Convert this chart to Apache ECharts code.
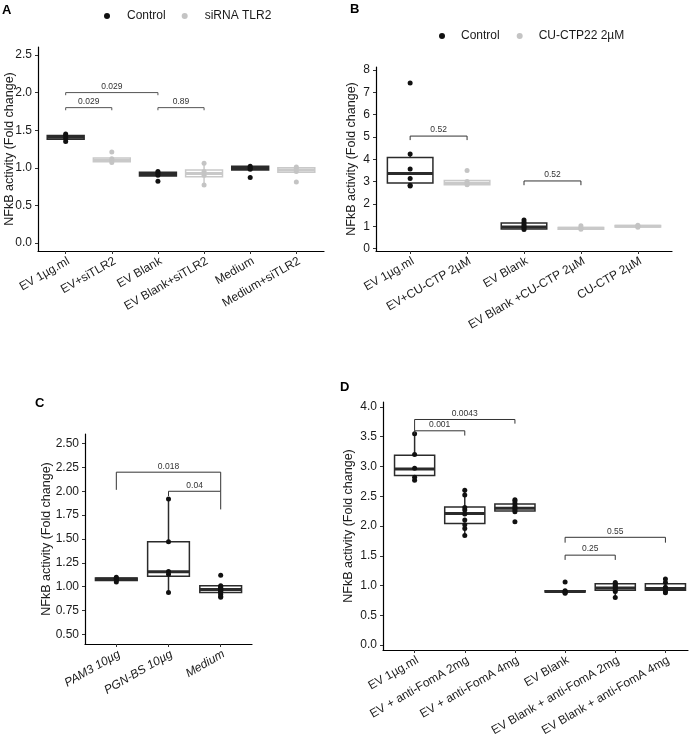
<!DOCTYPE html>
<html><head><meta charset="utf-8">
<script src="https://cdn.jsdelivr.net/npm/echarts@6/dist/echarts.min.js"></script>
<style>html,body{margin:0;padding:0;background:#fff}#c{width:696px;height:754px}</style>
</head><body><div id="c"></div>
<script>
// ---------------- Panel A ----------------
const catsA = ['EV 1µg.ml','EV+siTLR2','EV Blank','EV Blank+siTLR2','Medium','Medium+siTLR2'];
const groupA = [0,1,0,1,0,1];               // 0 = Control, 1 = siRNA TLR2
// [lower whisker, q1, median, q3, upper whisker]
const boxA = [[1.35,1.38,1.405,1.43,1.45],[1.07,1.08,1.10,1.13,1.13],[0.89,0.89,0.91,0.94,0.95],
              [0.77,0.88,0.925,0.97,1.06],[0.97,0.97,0.99,1.02,1.02],[0.94,0.94,0.97,1.00,1.01]];
const ptsA = [[1.45,1.43,1.39,1.35],[1.21,1.12,1.10,1.07],[0.95,0.93,0.90,0.82],
              [1.06,0.95,0.90,0.77],[1.02,1.00,0.98,0.87],[1.01,0.99,0.95,0.81]];
const tickA = [0,0.5,1,1.5,2,2.5];
// [x1, x2, bar y, left tip end, right tip end]
const brA = [[1,3,2.00,1.965,1.965],[1,2,1.80,1.765,1.765],[3,4,1.80,1.765,1.765]];
const brLabA = ['0.029','0.029','0.89'];

// ---------------- Panel B ----------------
const catsB = ['EV 1µg.ml','EV+CU-CTP 2µM','EV Blank','EV Blank +CU-CTP 2µM','CU-CTP 2µM'];
const groupB = [0,1,0,1,1];                 // 0 = Control, 1 = CU-CTP22 2µM
const boxB = [[2.80,2.94,3.36,4.08,4.24],[2.84,2.86,2.93,3.05,3.05],[0.85,0.88,0.97,1.15,1.28],
              [0.86,0.87,0.91,0.94,1.02],[0.96,0.97,1.00,1.03,1.05]];
const ptsB = [[7.42,4.24,3.57,3.14,2.84,2.80],[3.50,3.00,2.90,2.86],[1.28,1.18,1.08,1.00,0.93,0.85],
              [1.02,0.93,0.90,0.87],[1.05,1.01,0.99,0.96]];
const tickB = [0,1,2,3,4,5,6,7,8];
const brB = [[1,2,5.04,4.86,4.86],[3,4,3.03,2.84,2.84]];
const brLabB = ['0.52','0.52'];

// ---------------- Panel C ----------------
const catsC = ['PAM3 10µg','PGN-BS 10µg','Medium'];
const boxC = [[1.05,1.066,1.08,1.091,1.10],[0.94,1.11,1.157,1.47,1.92],[0.89,0.94,0.97,1.01,1.02]];
const ptsC = [[1.10,1.09,1.08,1.07,1.05],[1.92,1.47,1.16,1.13,0.94],
              [1.12,1.01,1.00,0.99,0.98,0.97,0.96,0.95,0.94,0.92,0.90,0.89]];
const tickC = [0.5,0.75,1,1.25,1.5,1.75,2,2.25,2.5];
const brC = [[1,3,2.20,2.015,2.00],[2,3,2.00,1.95,1.81]];
const brLabC = ['0.018','0.04'];

// ---------------- Panel D ----------------
const catsD = ['EV 1µg.ml','EV + anti-FomA 2mg','EV + anti-FomA 4mg','EV Blank','EV Blank + anti-FomA 2mg','EV Blank + anti-FomA 4mg'];
const boxD = [[2.77,2.85,2.96,3.19,3.55],[1.84,2.04,2.21,2.32,2.60],[2.24,2.25,2.30,2.37,2.44],
              [0.87,0.89,0.90,0.91,0.91],[0.80,0.92,0.96,1.03,1.05],[0.88,0.92,0.95,1.03,1.11]];
const ptsD = [[3.55,3.20,2.97,2.82,2.77],[2.60,2.52,2.31,2.27,2.20,2.10,2.02,1.96,1.84],
              [2.44,2.42,2.38,2.33,2.30,2.27,2.24,2.07],[1.06,0.91,0.90,0.88,0.87],
              [1.05,1.03,1.00,0.98,0.96,0.93,0.90,0.80],[1.11,1.05,0.97,0.95,0.90,0.88]];
const tickD = [0,0.5,1,1.5,2,2.5,3,3.5,4];
const brD = [[1,3,3.79,3.60,3.72],[1,2,3.60,3.55,3.52],[4,6,1.81,1.72,1.72],[4,5,1.51,1.43,1.43]];
const brLabD = ['0.0043','0.001','0.55','0.25'];

const DARK = '#2b2b2b', DARKPT = '#111111', LIGHT = '#c9c9c9', LIGHTPT = '#c4c4c4';
const FONT = '"Liberation Sans", Arial, Helvetica, sans-serif';
const YTITLE = 'NFkB activity (Fold change)';

function boxRender(color, halfW){
  return function(params, api){
    const x = api.value(0), lo = api.value(1), q1 = api.value(2), md = api.value(3), q3 = api.value(4), hi = api.value(5);
    const pL = api.coord([x - halfW, q1]), pR = api.coord([x + halfW, q3]);
    const pLo = api.coord([x, lo]), pHi = api.coord([x, hi]), pMd = api.coord([x, md]);
    const st = {stroke: color, lineWidth: 1.5};
    return {type:'group', children:[
      {type:'line', shape:{x1:pLo[0], y1:pHi[1], x2:pLo[0], y2:pR[1]}, style:st},
      {type:'line', shape:{x1:pLo[0], y1:pL[1], x2:pLo[0], y2:pLo[1]}, style:st},
      {type:'rect', shape:{x:pL[0], y:pR[1], width:pR[0]-pL[0], height:pL[1]-pR[1]}, style:{fill:'#fff', stroke:color, lineWidth:1.5}},
      {type:'line', shape:{x1:pL[0], y1:pMd[1], x2:pR[0], y2:pMd[1]}, style:{stroke:color, lineWidth:3}}
    ]};
  };
}
function bracketRender(labels, color){
  return function(params, api){
    const x1 = api.value(0), x2 = api.value(1), y = api.value(2), yl = api.value(3), yr = api.value(4);
    const a = api.coord([x1, yl]), b = api.coord([x1, y]), c = api.coord([x2, y]), d = api.coord([x2, yr]);
    return {type:'group', children:[
      {type:'polyline', shape:{points:[a,b,c,d]}, style:{stroke:color, lineWidth:1, fill:null}},
      {type:'text', x:(b[0]+c[0])/2, y:b[1]-1.5, style:{text:labels[params.dataIndex], fontSize:8.5, fontFamily:FONT, fill:'#333', align:'center', verticalAlign:'bottom'}}
    ]};
  };
}

const grids = [], xAxes = [], yAxes = [], series = [];
function panel(gi, grid, cats, xmin, xmax, ticks, ymin, ymax, digits, nameGap, italic){
  grids.push(grid);
  xAxes.push({type:'value', gridIndex:gi, min:xmin, max:xmax,
    axisLine:{show:true, onZero:false, lineStyle:{color:'#000', width:1.2}},
    axisTick:{show:true, length:3, customValues:cats.map((c,i)=>i+1), lineStyle:{color:'#333'}},
    axisLabel:{show:true, customValues:cats.map((c,i)=>i+1), rotate:30, margin:4, align:'right', verticalAlign:'top',
      fontSize:12, fontFamily:FONT, color:'#1a1a1a',
      fontStyle: italic ? 'italic' : 'normal', formatter:v => cats[Math.round(v)-1] || ''},
    splitLine:{show:false}});
  yAxes.push({type:'value', gridIndex:gi, min:ymin, max:ymax,
    axisLine:{show:true, onZero:false, lineStyle:{color:'#000', width:1.2}},
    axisTick:{show:true, length:3, customValues:ticks, lineStyle:{color:'#333'}},
    axisLabel:{show:true, customValues:ticks, margin:6, fontSize:12, fontFamily:FONT, color:'#1a1a1a', formatter:v => v.toFixed(digits)},
    splitLine:{show:false},
    name:YTITLE, nameLocation:'middle', nameGap:nameGap, nameRotate:90, nameMoveOverlap:false,
    nameTextStyle:{fontSize:12.5, fontFamily:FONT, color:'#1a1a1a'}});
}
function addData(gi, cats, boxes, pts, groups, names, boxColors, ptColors, halfW, brs, brLabs, brColor){
  const ng = names.length;
  for (let g = 0; g < ng; g++){
    const bd = [], pd = [];
    cats.forEach((c,i) => {
      if (groups[i] !== g) return;
      bd.push([i+1].concat(boxes[i]));
      pts[i].forEach(v => pd.push([i+1, v]));
    });
    series.push({type:'custom', name:names[g] + ' box', xAxisIndex:gi, yAxisIndex:gi, z:2,
      renderItem:boxRender(boxColors[g], halfW), data:bd, encode:{x:0, y:[1,2,3,4,5]}, silent:true});
    series.push({type:'scatter', name:names[g], xAxisIndex:gi, yAxisIndex:gi, z:5, symbol:'circle', symbolSize:5,
      itemStyle:{color:ptColors[g], opacity:1}, data:pd, silent:true});
  }
  series.push({type:'custom', name:'brackets'+gi, xAxisIndex:gi, yAxisIndex:gi, z:6,
    renderItem:bracketRender(brLabs, brColor), data:brs, encode:{x:[0,1], y:[2,3,4]}, silent:true});
}

panel(0, {left:38, top:47, width:286, height:204}, catsA, 0.4, 6.6, tickA, -0.106, 2.606, 1, 22, false);
panel(1, {left:376, top:67, width:296, height:184}, catsB, 0.4, 5.6, tickB, -0.108, 8.135, 0, 18, false);
panel(2, {left:85, top:434, width:167, height:210}, catsC, 0.4, 3.6, tickC, 0.40, 2.60, 2, 32, true);
panel(3, {left:383, top:402, width:305, height:248}, catsD, 0.37, 6.45, tickD, -0.084, 4.084, 1, 28, false);

addData(0, catsA, boxA, ptsA, groupA, ['Control','siRNA TLR2'], [DARK, LIGHT], [DARKPT, LIGHTPT], 0.4, brA, brLabA, '#555');
addData(1, catsB, boxB, ptsB, groupB, ['Control','CU-CTP22 2µM'], [DARK, LIGHT], [DARKPT, LIGHTPT], 0.4, brB, brLabB, '#333');
addData(2, catsC, boxC, ptsC, [0,0,0], ['C points'], [DARK], [DARKPT], 0.4, brC, brLabC, '#333');
addData(3, catsD, boxD, ptsD, [0,0,0,0,0,0], ['D points'], [DARK], [DARKPT], 0.4, brD, brLabD, '#333');

const legendText = {fontSize:12, fontFamily:FONT, color:'#1a1a1a'};
const chart = echarts.init(document.getElementById('c'), null, {renderer:'canvas'});
chart.setOption({
  animation:false,
  backgroundColor:'#fff',
  textStyle:{fontFamily:FONT},
  grid:grids, xAxis:xAxes, yAxis:yAxes, series:series,
  legend:[
    {data:['Control','siRNA TLR2'], left:104, top:10, padding:0, icon:'circle', itemWidth:6, itemHeight:6, itemGap:16,
     selectedMode:false, textStyle:Object.assign({padding:[0,0,0,12]}, legendText)},
    {data:['Control','CU-CTP22 2µM'], left:439, top:30, padding:0, icon:'circle', itemWidth:6, itemHeight:6, itemGap:17,
     selectedMode:false, textStyle:Object.assign({padding:[0,0,0,11]}, legendText)}
  ],
  graphic:[
    {type:'text', left:2, top:4, style:{text:'A', fontSize:13, fontWeight:'bold', fontFamily:FONT, fill:'#000'}},
    {type:'text', left:350, top:3, style:{text:'B', fontSize:13, fontWeight:'bold', fontFamily:FONT, fill:'#000'}},
    {type:'text', left:35, top:397, style:{text:'C', fontSize:13, fontWeight:'bold', fontFamily:FONT, fill:'#000'}},
    {type:'text', left:340, top:381, style:{text:'D', fontSize:13, fontWeight:'bold', fontFamily:FONT, fill:'#000'}}
  ]
});
</script>
</body></html>
